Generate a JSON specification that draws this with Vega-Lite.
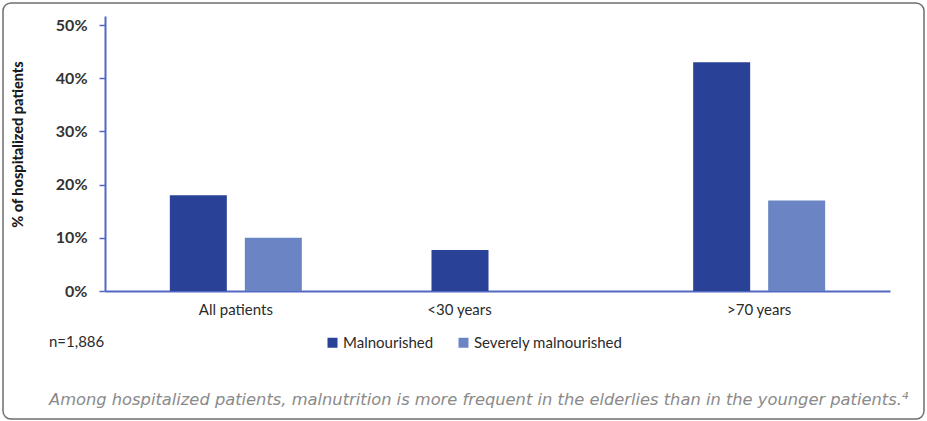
{
  "$schema": "https://vega.github.io/schema/vega-lite/v6.json",
  "width": 921,
  "height": 416,
  "autosize": "none",
  "padding": {"left": 3, "top": 3, "right": 3, "bottom": 2},
  "background": "white",
  "title": {
    "text": "n=1,886",
    "subtitle": "Among hospitalized patients, malnutrition is more frequent in the elderlies than in the younger patients.⁴",
    "orient": "top",
    "anchor": "start",
    "frame": "group",
    "font": "Lato",
    "fontSize": 15,
    "fontWeight": "normal",
    "color": "#2a2a2a",
    "subtitleFont": "DejaVu Sans",
    "subtitleFontSize": 16.3,
    "subtitleFontStyle": "italic",
    "subtitleColor": "#8a8a8a",
    "subtitlePadding": 42,
    "dx": 46,
    "dy": 409
  },
  "data": {
    "values": [
      {"group": "All patients", "series": "Malnourished", "value": 0.18},
      {"group": "All patients", "series": "Severely malnourished", "value": 0.10},
      {"group": "<30 years", "series": "Malnourished", "value": 0.077},
      {"group": ">70 years", "series": "Malnourished", "value": 0.43},
      {"group": ">70 years", "series": "Severely malnourished", "value": 0.17}
    ]
  },
  "mark": {"type": "bar"},
  "encoding": {
    "x": {
      "field": "group",
      "type": "nominal",
      "sort": ["All patients", "<30 years", ">70 years"],
      "scale": {"range": [102, 887], "paddingInner": 0, "paddingOuter": 0},
      "axis": {
        "title": null,
        "orient": "bottom",
        "offset": -128,
        "ticks": false,
        "tickSize": 0,
        "labelPadding": 11,
        "labelAngle": 0,
        "labelFont": "Lato",
        "labelFontSize": 15,
        "labelColor": "#2a2a2a",
        "labelOffset": {"condition": {"test": "datum.value == '<30 years'", "value": -38}, "value": 0},
        "domainColor": "#5468c2",
        "domainWidth": 2
      }
    },
    "xOffset": {
      "field": "series",
      "type": "nominal",
      "scale": {"paddingInner": 0.24, "paddingOuter": 0.8645}
    },
    "y": {
      "field": "value",
      "type": "quantitative",
      "scale": {"domain": [0, 0.517], "range": [288, 13], "nice": false, "zero": true},
      "axis": {
        "title": "% of hospitalized patients",
        "orient": "left",
        "offset": -102,
        "values": [0, 0.1, 0.2, 0.3, 0.4, 0.5],
        "format": ".0%",
        "grid": false,
        "tickSize": 6,
        "tickColor": "#5468c2",
        "tickWidth": 1.5,
        "labelPadding": 12,
        "labelFont": "Lato",
        "labelFontSize": 16,
        "labelFontWeight": "bold",
        "labelColor": "#333333",
        "domainColor": "#5468c2",
        "domainWidth": 2,
        "titleFont": "Lato",
        "titleFontSize": 14.5,
        "titleFontWeight": 900,
        "titleColor": "#1a1a1a",
        "titleX": -87,
        "titleY": 141,
        "titleBaseline": "middle",
        "titleAngle": -90
      }
    },
    "color": {
      "field": "series",
      "type": "nominal",
      "scale": {
        "domain": ["Malnourished", "Severely malnourished"],
        "range": ["#2a4198", "#6a84c4"]
      },
      "legend": {
        "title": null,
        "orient": "none",
        "direction": "horizontal",
        "legendX": 322,
        "legendY": 332,
        "symbolType": "square",
        "symbolSize": 100,
        "symbolStrokeWidth": 0,
        "symbolOpacity": 1,
        "labelFont": "Lato",
        "labelFontSize": 15,
        "labelColor": "#2a2a2a",
        "labelOffset": 3,
        "columnPadding": 22
      }
    }
  },
  "config": {
    "view": {"stroke": "#6e6e6e", "strokeWidth": 1.5, "cornerRadius": 8}
  }
}
